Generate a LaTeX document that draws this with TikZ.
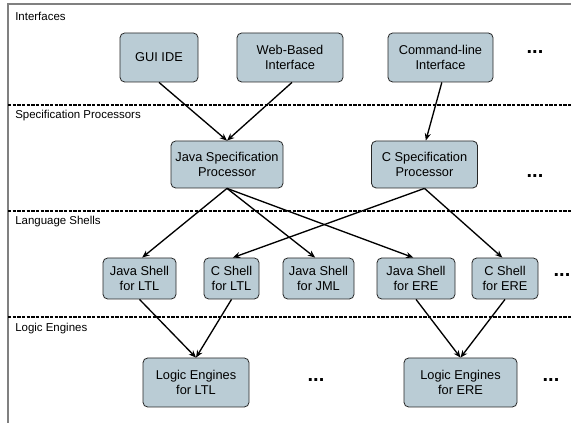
\documentclass[tikz,border=0pt]{standalone}
\usepackage{fontspec}
\setmainfont{Liberation Sans}
\usetikzlibrary{arrows.meta}
\definecolor{boxfill}{RGB}{186,204,213}
\definecolor{framegray}{RGB}{128,128,128}
\tikzset{
  box/.style 2 args={draw=black!85, line width=0.6pt, fill=boxfill, rounded corners=3.5pt,
    minimum width={#1*0.75pt}, minimum height={#2*0.75pt}, inner sep=0pt, align=center,
    font=\fontsize{9.6}{11.4}\selectfont},
  lane/.style={anchor=west, inner sep=0pt, font=\fontsize{8.6}{10}\selectfont},
  sep/.style={line width=0.9pt, dash pattern=on 2.5pt off 1pt},
  conn/.style={line width=1pt, -{Stealth[length=5.5pt,width=4.5pt]}},
  more/.style={inner sep=0pt, font=\fontsize{15}{15}\selectfont\bfseries}
}
\begin{document}
\begin{tikzpicture}[x=0.75pt,y=-0.75pt]
\useasboundingbox (0,0) rectangle (571,423);
% frame
\draw[framegray, line width=0.9pt] (571,4) -- (8,4) -- (8,423);
% separators
\draw[sep] (8,105) -- (571,105);
\draw[sep] (8,211) -- (571,211);
\draw[sep] (8,317) -- (571,317);
% lane labels
\node[lane] (l1) at (15,16) {Interfaces};
\node[lane] (l2) at (15,116) {Specification Processors};
\node[lane] (l3) at (15,222) {Language Shells};
\node[lane] (l4) at (15,329) {Logic Engines};
% interfaces
\node[box={78}{49}] (gui) at (159,57.5) {GUI IDE};
\node[box={106}{49}] (web) at (290,57.5) {Web-Based\\Interface};
\node[box={105}{49}] (cmd) at (440.5,57.5) {Command-line\\Interface};
\node[more] (d1) at (535,52) {...};
% spec processors
\node[box={112}{47}] (jsp) at (227,164.5) {Java Specification\\Processor};
\node[box={106}{47}] (csp) at (424.5,164.5) {C Specification\\Processor};
\node[more] (d2) at (535,176) {...};
% shells
\node[box={73}{41}] (jsltl) at (139.5,278.5) {Java Shell\\for LTL};
\node[box={55}{41}] (csltl) at (231.5,278.5) {C Shell\\for LTL};
\node[box={71}{41}] (jsjml) at (318.5,278.5) {Java Shell\\for JML};
\node[box={78}{41}] (jsere) at (416,278.5) {Java Shell\\for ERE};
\node[box={66}{41}] (csere) at (505,278.5) {C Shell\\for ERE};
\node[more] (d3) at (562,275) {...};
% logic engines
\node[box={106}{49}] (leltl) at (196,382.5) {Logic Engines\\for LTL};
\node[box={113}{49}] (leere) at (460.5,382.5) {Logic Engines\\for ERE};
\node[more] (d4) at (316,380) {...};
\node[more] (d5) at (551,380) {...};
% connectors
\draw[conn] (gui.south) -- (jsp.north);
\draw[conn] ([xshift=1.5pt]web.south) -- (jsp.north);
\draw[conn] ([xshift=1pt]cmd.south) -- ([xshift=1pt]csp.north);
\draw[conn] (jsp.south) -- ([xshift=2pt]jsltl.north);
\draw[conn] (jsp.south) -- ([xshift=-2.5pt]jsjml.north);
\draw[conn] (jsp.south) -- ([xshift=-2pt]jsere.north);
\draw[conn] (csp.south) -- ([xshift=1pt]csltl.north);
\draw[conn] (csp.south) -- ([xshift=-2pt]csere.north);
\draw[conn] (jsltl.south) -- (leltl.north);
\draw[conn] (csltl.south) -- (leltl.north);
\draw[conn] (jsere.south) -- (leere.north);
\draw[conn] (csere.south) -- (leere.north);
\end{tikzpicture}
\end{document}
